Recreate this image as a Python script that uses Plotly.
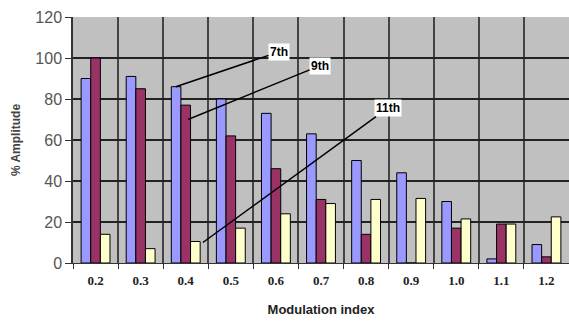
import plotly.graph_objects as go

categories = ["0.2", "0.3", "0.4", "0.5", "0.6", "0.7", "0.8", "0.9", "1.0", "1.1", "1.2"]
h7 = [90, 91, 86, 80, 73, 63, 50, 44, 30, 2, 9]
h9 = [100, 85, 77, 62, 46, 31, 14, 0, 17, 19, 3]
h11 = [14, 7, 10.5, 17, 24, 29, 31, 31.5, 21.5, 19, 22.5]
series_names = ["7th", "9th", "11th"]
y_ticks = [0, 20, 40, 60, 80, 100, 120]

colors = ["#9999FF", "#993366", "#FFFFCC"]

fig = go.Figure()
for name, vals, col in zip(series_names, [h7, h9, h11], colors):
    fig.add_trace(go.Bar(x=categories, y=vals, name=name,
                         marker=dict(color=col, line=dict(color="#000000", width=1))))

# leader-line labels: (label, head x, head y, text x, text y)
labels = [
    ("7th", 1.78, 86, 4.07, 103),
    ("9th", 2.05, 70, 4.98, 96.3),
    ("11th", 2.38, 10, 6.48, 75.5),
]
for txt, hx, hy, tx, ty in labels:
    fig.add_annotation(x=hx, y=hy, ax=tx, ay=ty, axref="x", ayref="y", xref="x", yref="y",
                       text="<b>%s</b>" % txt, showarrow=True, arrowhead=0, arrowwidth=1.5,
                       arrowcolor="#000000", bgcolor="#FFFFFF", borderpad=1,
                       font=dict(family="Arial", size=12, color="#000000"))

fig.update_layout(
    width=569, height=327,
    margin=dict(l=73, r=0, t=17, b=64),
    paper_bgcolor="#FFFFFF", plot_bgcolor="#C0C0C0",
    barmode="group", bargap=0.36, bargroupgap=0,
    showlegend=False,
    xaxis=dict(type="category", range=[-0.5, 10.5], tickson="boundaries",
               showgrid=True, gridcolor="#444", gridwidth=2,
               ticks="outside", ticklen=5, tickcolor="#333", ticklabelstandoff=5,
               tickfont=dict(family="Liberation Serif", size=13, color="#222", weight="bold"),
               title=dict(text="<b>Modulation index</b>", font=dict(family="Arial", size=13, color="#222"), standoff=18),
               showline=True, linecolor="#333", linewidth=1),
    yaxis=dict(range=[0, 120], tickvals=y_ticks, showgrid=True, gridcolor="#222", gridwidth=1.5,
               ticks="outside", ticklen=6, tickcolor="#333",
               tickfont=dict(family="Arial", size=16, color="#555"),
               title=dict(text="<b>% Amplitude</b>", font=dict(family="Arial", size=12, color="#444"), standoff=12),
               showline=True, linecolor="#333", linewidth=1.5, zeroline=False),
)

fig.write_html("out.html")
